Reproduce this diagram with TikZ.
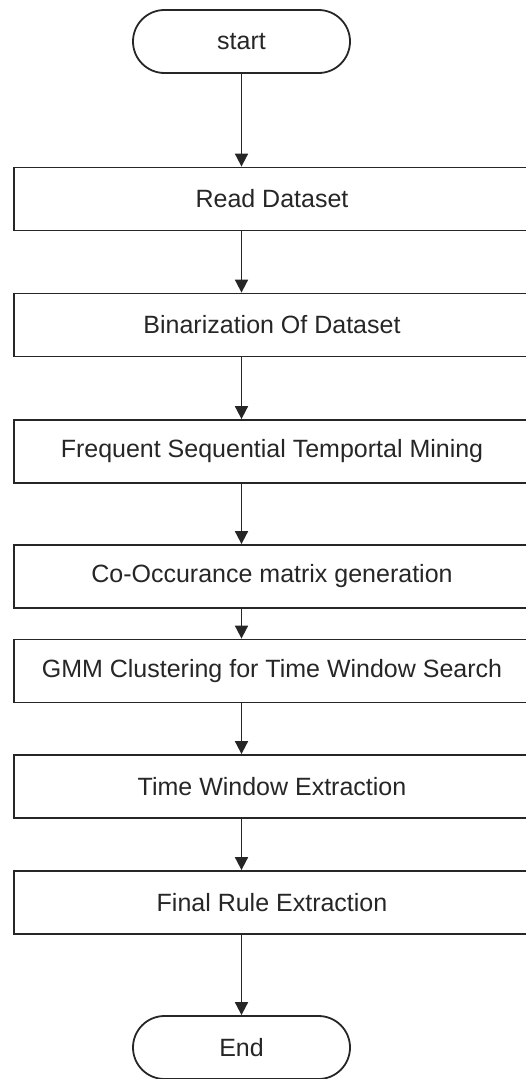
\documentclass[tikz,border=0pt]{standalone}
\usepackage{fontspec}
\setmainfont{Liberation Sans}
\usetikzlibrary{arrows.meta,shapes.misc}
\begin{document}
\begin{tikzpicture}[x=1pt,y=-1pt,>={Triangle[length=13pt,width=13pt]},line width=1.8pt,draw=black!85,
	stepbox/.style={draw,rectangle,minimum width=516pt,minimum height=63pt,inner sep=0pt,text=black!85,font=\fontsize{25}{29}\selectfont},
	term/.style={draw,rounded rectangle,minimum width=217pt,minimum height=63pt,inner sep=0pt,text=black!85,font=\fontsize{25}{29}\selectfont}]
	\useasboundingbox (0,0) rectangle (526,1079);
	\node[term] (start) at (241.5,41.5) {start};
	\node[stepbox] (read) at (272,199) {Read Dataset};
	\node[stepbox] (bin) at (272,325) {Binarization Of Dataset};
	\node[stepbox] (mine) at (272,451.5) {Frequent Sequential Temportal Mining};
	\node[stepbox] (cooc) at (272,576.5) {Co-Occurance matrix generation};
	\node[stepbox] (gmm) at (272,671) {GMM Clustering for Time Window Search};
	\node[stepbox] (twin) at (272,786.5) {Time Window Extraction};
	\node[stepbox] (rule) at (272,902.5) {Final Rule Extraction};
	\node[term] (end) at (241.5,1047.5) {End};
	\draw[->] (start.south) -- (read.north -| start.south);
	\draw[->] (read.south -| start.south) -- (bin.north -| start.south);
	\draw[->] (bin.south -| start.south) -- (mine.north -| start.south);
	\draw[->] (mine.south -| start.south) -- (cooc.north -| start.south);
	\draw[->] (cooc.south -| start.south) -- (gmm.north -| start.south);
	\draw[->] (gmm.south -| start.south) -- (twin.north -| start.south);
	\draw[->] (twin.south -| start.south) -- (rule.north -| start.south);
	\draw[->] (rule.south -| start.south) -- (end.north);
\end{tikzpicture}
\end{document}
